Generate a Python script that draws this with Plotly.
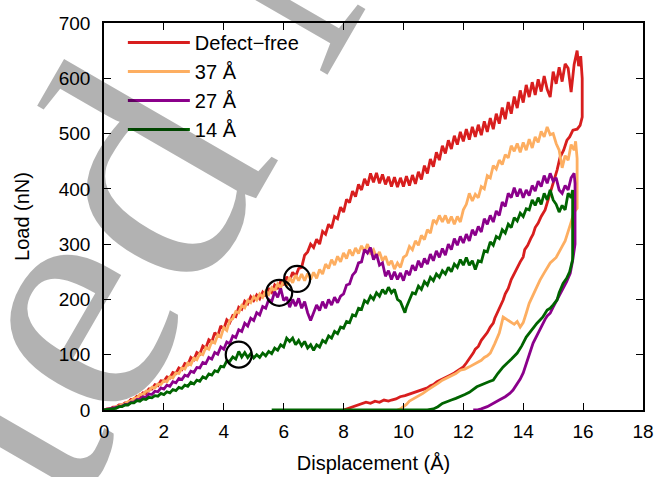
import plotly.graph_objects as go

# ---- data (Load in nN vs displacement in Angstrom) ----
df_x = [0.0, 0.1, 0.2, 0.3, 0.4, 0.5, 0.6, 0.7, 0.8, 0.9, 1.0, 1.1, 1.2, 1.3, 1.4, 1.5, 1.6, 1.7, 1.8, 1.9,
        2.0, 2.1, 2.2, 2.3, 2.4, 2.5, 2.6, 2.7, 2.8, 2.9, 3.0, 3.1, 3.2, 3.3, 3.4, 3.5, 3.6, 3.7, 3.8, 3.9,
        4.0, 4.1, 4.2, 4.3, 4.4, 4.5, 4.6, 4.7, 4.8, 4.9, 5.0, 5.1, 5.2, 5.3, 5.4, 5.5, 5.6, 5.7, 5.8, 5.9,
        6.0, 6.1, 6.2, 6.3, 6.4, 6.5, 6.6, 6.7, 6.8, 6.9, 7.0, 7.1, 7.2, 7.3, 7.4, 7.5, 7.6, 7.7, 7.8, 7.9,
        8.0, 8.1, 8.2, 8.3, 8.4, 8.5, 8.6, 8.7, 8.8, 8.9, 9.0, 9.1, 9.2, 9.3, 9.4, 9.5, 9.6, 9.7, 9.8, 9.9,
        10.0, 10.1, 10.2, 10.3, 10.4, 10.5, 10.6, 10.7, 10.8, 10.9, 11.0, 11.1, 11.2, 11.3, 11.4, 11.5,
        11.6, 11.7, 11.8, 11.9, 12.0, 12.1, 12.2, 12.3, 12.4, 12.5, 12.6, 12.7, 12.8, 12.9, 13.0, 13.1,
        13.2, 13.3, 13.4, 13.5, 13.6, 13.7, 13.8, 13.9, 14.0, 14.1, 14.2, 14.3, 14.4, 14.5, 14.6, 14.7,
        14.8, 14.9, 15.0, 15.1, 15.2, 15.3, 15.4, 15.5, 15.6, 15.7, 15.8, 15.85, 15.92, 15.97, 15.97,
        15.9, 15.8, 15.66, 15.55, 15.46, 15.35, 15.23, 15.13, 15.05, 14.95, 14.85, 14.73, 14.6, 14.5,
        14.4, 14.33, 14.25, 14.15, 14.05, 14.0, 13.9, 13.8, 13.7, 13.6, 13.5, 13.4, 13.33, 13.25, 13.15,
        13.05, 13.0, 12.9, 12.8, 12.7, 12.6, 12.5, 12.4, 12.33, 12.2, 12.1, 12.0, 11.9, 11.8, 11.7, 11.56,
        11.45, 11.3, 11.2, 11.12, 11.0, 10.9, 10.8, 10.7, 10.55, 10.4, 10.3, 10.2, 10.05, 9.89, 9.75, 9.6,
        9.5, 9.35, 9.2, 9.05, 8.9, 8.75, 8.55, 8.4, 8.3, 8.15, 8.0]
df_y = [0, 2, 2, 5, 5, 9, 9, 13, 13, 19, 19, 25, 24, 31, 30, 38, 38, 46, 44, 53,
        52, 60, 58, 68, 66, 76, 73, 84, 82, 95, 91, 104, 101, 116, 112, 127, 123, 140, 134, 152,
        146, 163, 158, 171, 169, 186, 182, 197, 192, 205, 198, 208, 201, 213, 206, 220, 213, 226, 219, 233,
        226, 241, 234, 249, 242, 256, 258, 280, 286, 300, 294, 309, 300, 323, 318, 336, 329, 350, 346, 367,
        358, 381, 375, 396, 386, 408, 398, 418, 406, 428, 412, 429, 410, 426, 408, 422, 404, 421, 403, 420,
        404, 423, 406, 425, 409, 431, 417, 442, 428, 454, 440, 466, 452, 478, 464, 488,
        472, 496, 480, 503, 486, 508, 489, 512, 494, 516, 497, 522, 503, 528, 508, 536,
        518, 547, 526, 557, 536, 567, 546, 578, 556, 588, 566, 593, 570, 598, 576, 604,
        580, 566, 612, 590, 620, 594, 626, 618, 575, 625, 650, 622, 640, 600, 530,
        515, 508, 506, 494, 488, 470, 457, 434, 420, 398, 384, 362, 350, 338,
        330, 318, 310, 298, 290, 277, 268, 258, 246, 236, 220, 210, 199, 190, 178,
        166, 157, 150, 140, 134, 126, 115, 110, 103, 92, 85, 78, 74, 70, 67, 63,
        60, 56, 54, 51, 46, 44, 40, 38, 36, 32, 31, 28, 26, 24, 20, 18,
        16, 18, 14, 16, 12, 14, 10, 7, 5, 2, 0]

d37_x = [0.0, 0.1, 0.2, 0.3, 0.4, 0.5, 0.6, 0.7, 0.8, 0.9, 1.0, 1.1, 1.2, 1.3, 1.4, 1.5, 1.6, 1.7, 1.8, 1.9,
         2.0, 2.1, 2.2, 2.3, 2.4, 2.5, 2.6, 2.7, 2.8, 2.9, 3.0, 3.1, 3.2, 3.3, 3.4, 3.5, 3.6, 3.7, 3.8, 3.9,
         4.0, 4.1, 4.2, 4.3, 4.4, 4.5, 4.6, 4.7, 4.8, 4.9, 5.0, 5.1, 5.2, 5.3, 5.4, 5.5, 5.6, 5.7, 5.8, 5.9,
         6.0, 6.1, 6.2, 6.3, 6.4, 6.5, 6.6, 6.7, 6.8, 6.9, 7.0, 7.1, 7.2, 7.3, 7.4, 7.5, 7.6, 7.7, 7.8, 7.9,
         8.0, 8.1, 8.2, 8.3, 8.4, 8.5, 8.6, 8.7, 8.8, 8.9, 9.0, 9.1, 9.2, 9.3, 9.4, 9.5, 9.6, 9.7, 9.8, 9.9,
         10.0, 10.1, 10.2, 10.3, 10.4, 10.5, 10.6, 10.7, 10.8, 10.9, 11.0, 11.1, 11.2, 11.3, 11.4, 11.5,
         11.6, 11.7, 11.8, 11.9, 12.0, 12.1, 12.2, 12.3, 12.4, 12.5, 12.6, 12.7, 12.8, 12.9, 13.0, 13.1,
         13.2, 13.3, 13.4, 13.5, 13.6, 13.7, 13.8, 13.9, 14.0, 14.1, 14.2, 14.3, 14.4, 14.5, 14.6, 14.7,
         14.8, 14.9, 15.0, 15.1, 15.2, 15.3, 15.4, 15.5, 15.6, 15.7, 15.75, 15.8, 15.8,
         15.7, 15.6, 15.5, 15.4, 15.3, 15.23, 15.1, 14.9, 14.8, 14.7, 14.56, 14.45, 14.35, 14.2, 14.1,
         14.0, 13.9, 13.8, 13.7, 13.56, 13.45, 13.33, 13.25, 13.2, 13.05, 12.9, 12.8, 12.7, 12.6, 12.45,
         12.3, 12.2, 12.05, 11.9, 11.75, 11.6, 11.45, 11.3, 11.15, 11.05, 10.9, 10.8, 10.65, 10.5, 10.35,
         10.2, 10.1, 10.0, 9.9, 9.8]
d37_y = [0, 1, 3, 3, 6, 7, 10, 11, 15, 16, 21, 22, 28, 28, 34, 34, 41, 40, 47, 46,
         53, 51, 60, 58, 67, 66, 76, 74, 85, 82, 94, 91, 102, 100, 113, 110, 124, 121, 136, 132,
         149, 144, 162, 165, 178, 176, 189, 185, 198, 194, 205, 199, 210, 204, 215, 209, 221, 215, 228, 221,
         234, 225, 240, 230, 244, 234, 246, 234, 247, 236, 249, 238, 254, 246, 264, 256, 272, 262, 278, 268,
         284, 274, 290, 279, 293, 283, 297, 287, 300, 284, 290, 276, 286, 270, 278, 262, 270, 255, 266, 258,
         276, 280, 296, 290, 306, 298, 316, 308, 326, 320, 344, 338, 352, 340, 352, 338,
         350, 336, 350, 340, 362, 372, 392, 378, 390, 384, 404, 400, 424, 420, 442, 436,
         452, 444, 462, 456, 478, 468, 482, 466, 484, 470, 490, 474, 494, 484, 504, 494,
         512, 498, 500, 482, 470, 438, 460, 452, 480, 470, 486, 455, 365,
         358, 340, 322, 306, 296, 289, 276, 266, 256, 248, 235, 222, 210, 193, 175,
         158, 150, 160, 155, 160, 165, 168, 150, 139, 120, 103, 98, 95, 90, 85,
         80, 78, 74, 72, 66, 62, 58, 54, 48, 45, 40, 36, 30, 25, 20,
         16, 10, 6, 2, 0]

d27_x = [0.0, 0.1, 0.2, 0.3, 0.4, 0.5, 0.6, 0.7, 0.8, 0.9, 1.0, 1.1, 1.2, 1.3, 1.4, 1.5, 1.6, 1.7, 1.8, 1.9,
         2.0, 2.1, 2.2, 2.3, 2.4, 2.5, 2.6, 2.7, 2.8, 2.9, 3.0, 3.1, 3.2, 3.3, 3.4, 3.5, 3.6, 3.7, 3.8, 3.9,
         4.0, 4.1, 4.2, 4.3, 4.4, 4.5, 4.6, 4.7, 4.8, 4.9, 5.0, 5.1, 5.2, 5.3, 5.4, 5.5, 5.6, 5.7, 5.8, 5.9,
         6.0, 6.1, 6.2, 6.3, 6.4, 6.5, 6.6, 6.7, 6.8, 6.9, 7.0, 7.1, 7.2, 7.3, 7.4, 7.5, 7.6, 7.7, 7.8, 7.9,
         8.0, 8.1, 8.2, 8.3, 8.4, 8.5, 8.6, 8.7, 8.8, 8.9, 9.0, 9.1, 9.2, 9.3, 9.4, 9.5, 9.6, 9.7, 9.8, 9.9,
         10.0, 10.1, 10.2, 10.3, 10.4, 10.5, 10.6, 10.7, 10.8, 10.9, 11.0, 11.1, 11.2, 11.3, 11.4, 11.5,
         11.6, 11.7, 11.8, 11.9, 12.0, 12.1, 12.2, 12.3, 12.4, 12.5, 12.6, 12.7, 12.8, 12.9, 13.0, 13.1,
         13.2, 13.3, 13.4, 13.5, 13.6, 13.7, 13.8, 13.9, 14.0, 14.1, 14.2, 14.3, 14.4, 14.5, 14.6, 14.7,
         14.8, 14.9, 15.0, 15.1, 15.2, 15.3, 15.4, 15.5, 15.6, 15.7, 15.73, 15.73,
         15.65, 15.57, 15.45, 15.35, 15.23, 15.1, 15.0, 14.9, 14.8, 14.73, 14.6, 14.5, 14.4, 14.33, 14.25,
         14.15, 14.05, 14.0, 13.9, 13.8, 13.66, 13.55, 13.4, 13.2, 13.0, 12.8, 12.6, 12.45, 12.33]
d27_y = [0, 1, 2, 3, 4, 6, 7, 10, 10, 14, 14, 19, 19, 24, 23, 29, 28, 34, 33, 40,
         38, 45, 43, 51, 49, 57, 55, 63, 61, 70, 68, 77, 76, 86, 84, 95, 92, 104, 101, 114,
         110, 123, 120, 134, 131, 145, 142, 157, 152, 166, 162, 176, 172, 187, 184, 200, 196, 214, 204, 220,
         198, 204, 186, 200, 188, 202, 184, 196, 176, 162, 178, 190, 180, 196, 184, 200, 190, 204, 194, 206,
         210, 226, 228, 244, 250, 266, 268, 290, 284, 294, 272, 282, 262, 266, 242, 252, 236, 250, 236, 248,
         234, 252, 244, 262, 252, 270, 258, 274, 264, 282, 270, 288, 276, 292, 280, 300,
         290, 310, 298, 314, 302, 318, 306, 326, 316, 332, 322, 346, 336, 352, 340, 360,
         352, 376, 368, 392, 384, 402, 386, 400, 384, 398, 388, 406, 396, 414, 404, 424,
         410, 428, 414, 420, 398, 392, 406, 398, 420, 428, 410, 300,
         270, 247, 232, 222, 211, 196, 186, 175, 170, 164, 150, 140, 128, 121, 108,
         92, 78, 67, 56, 48, 36, 30, 24, 18, 12, 6, 2, 0, 0]

d14_x = [0.0, 0.1, 0.2, 0.3, 0.4, 0.5, 0.6, 0.7, 0.8, 0.9, 1.0, 1.1, 1.2, 1.3, 1.4, 1.5, 1.6, 1.7, 1.8, 1.9,
         2.0, 2.1, 2.2, 2.3, 2.4, 2.5, 2.6, 2.7, 2.8, 2.9, 3.0, 3.1, 3.2, 3.3, 3.4, 3.5, 3.6, 3.7, 3.8, 3.9,
         4.0, 4.1, 4.2, 4.3, 4.4, 4.5, 4.6, 4.7, 4.8, 4.9, 5.0, 5.1, 5.2, 5.3, 5.4, 5.5, 5.6, 5.7, 5.8, 5.9,
         6.0, 6.1, 6.2, 6.3, 6.4, 6.5, 6.6, 6.7, 6.8, 6.9, 7.0, 7.1, 7.2, 7.3, 7.4, 7.5, 7.6, 7.7, 7.8, 7.9,
         8.0, 8.1, 8.2, 8.3, 8.4, 8.5, 8.6, 8.7, 8.8, 8.9, 9.0, 9.1, 9.2, 9.3, 9.4, 9.5, 9.6, 9.7, 9.8, 9.9,
         10.0, 10.05, 10.1, 10.2, 10.3, 10.4, 10.5, 10.6, 10.7, 10.8, 10.9, 11.0, 11.1, 11.2, 11.3, 11.4,
         11.5, 11.6, 11.7, 11.8, 11.9, 12.0, 12.1, 12.2, 12.3, 12.4, 12.5, 12.6, 12.7, 12.8, 12.9, 13.0,
         13.1, 13.2, 13.3, 13.4, 13.5, 13.6, 13.7, 13.8, 13.9, 14.0, 14.1, 14.2, 14.3, 14.4, 14.5, 14.6,
         14.7, 14.8, 14.9, 15.0, 15.1, 15.2, 15.3, 15.4, 15.5, 15.6, 15.65, 15.65,
         15.55, 15.45, 15.33, 15.2, 15.13, 15.0, 14.9, 14.8, 14.65, 14.46, 14.3, 14.1, 13.95, 13.8, 13.6,
         13.45, 13.33, 13.15, 13.0, 12.85, 12.7, 12.55, 12.45, 12.3, 12.2, 12.05, 11.9, 11.75, 11.6,
         11.45, 11.3, 11.15, 11.0, 10.8, 5.6]
d14_y = [0, 1, 1, 3, 3, 6, 6, 9, 9, 13, 13, 17, 16, 20, 19, 23, 22, 26, 25, 30,
         28, 33, 31, 37, 35, 41, 39, 45, 43, 50, 47, 54, 52, 60, 57, 65, 63, 71, 69, 79,
         78, 89, 88, 96, 92, 106, 96, 104, 95, 102, 94, 100, 95, 103, 98, 106, 102, 112, 108, 118,
         114, 130, 124, 130, 118, 126, 116, 124, 112, 118, 108, 118, 114, 126, 122, 134, 130, 142, 138, 150,
         148, 160, 158, 172, 170, 184, 182, 198, 194, 206, 200, 212, 206, 218, 210, 222, 212, 218, 200, 196,
         182, 176, 186, 200, 212, 210, 224, 218, 232, 226, 240, 234, 246, 240, 252, 246,
         258, 250, 264, 258, 272, 262, 276, 262, 270, 254, 270, 268, 288, 286, 304, 298,
         314, 310, 326, 320, 336, 330, 348, 342, 356, 350, 364, 362, 380, 370, 384, 372,
         392, 380, 398, 380, 372, 358, 370, 362, 392, 384, 398, 272,
         250, 238, 229, 212, 199, 190, 184, 181, 168, 157, 145, 132, 116, 103, 92,
         84, 78, 66, 54, 51, 48, 44, 42, 36, 32, 28, 24, 21, 18,
         15, 12, 6, 2, 0, 0]

marked_x = [4.5, 5.85, 6.45]
marked_y = [100, 212, 237]

series_names = ["Defect\u2212free", "37 \u00c5", "27 \u00c5", "14 \u00c5"]
series_x = [df_x, d37_x, d27_x, d14_x]
series_y = [df_y, d37_y, d27_y, d14_y]
series_colors = ["#d81e1e", "#fdae61", "#8b008b", "#006400"]

x_ticks = [0, 2, 4, 6, 8, 10, 12, 14, 16, 18]
y_ticks = [0, 100, 200, 300, 400, 500, 600, 700]

FONT = "Liberation Sans, Arial, Helvetica, sans-serif"

fig = go.Figure()
for name, xs, ys, col in zip(series_names, series_x, series_y, series_colors):
    fig.add_trace(go.Scatter(x=xs, y=ys, mode="lines", name=name,
                             line=dict(color=col, width=2.8)))

fig.add_trace(go.Scatter(x=marked_x, y=marked_y, mode="markers", showlegend=False,
                         marker=dict(symbol="circle-open", size=26, color="black",
                                     line=dict(width=2.2, color="black"))))

axis_common = dict(showline=True, linecolor="black", linewidth=1.5, mirror="ticks",
                   ticks="inside", ticklen=7, tickwidth=1, tickcolor="black",
                   showgrid=False, zeroline=False,
                   tickfont=dict(family=FONT, size=19, color="black"))

fig.update_xaxes(range=[0, 18], tickvals=x_ticks, ticklabelstandoff=3, **axis_common,
                 title=dict(text="Displacement (\u00c5)", font=dict(family=FONT, size=20, color="black"),
                            standoff=15))
fig.update_yaxes(range=[0, 700], tickvals=y_ticks, ticklabelstandoff=8, **axis_common,
                 title=dict(text="Load (nN)", font=dict(family=FONT, size=20, color="black"),
                            standoff=24))

# faint "Accepted Manuscript" watermark
fig.add_annotation(text="Accepted Manuscript", xref="paper", yref="paper", x=0.306, y=1.194,
                   xanchor="center", yanchor="middle", showarrow=False, textangle=-60,
                   font=dict(family="Liberation Serif, Times New Roman, serif", size=340,
                             color="rgba(0,0,0,0.3)"))

fig.update_layout(
    width=661, height=477,
    margin=dict(l=104, r=18, t=23, b=67, autoexpand=False),
    paper_bgcolor="white", plot_bgcolor="white",
    font=dict(family=FONT, color="black"),
    legend=dict(x=0.035, y=1.0, xanchor="left", yanchor="top", bgcolor="rgba(0,0,0,0)",
                font=dict(family=FONT, size=20, color="black"), itemwidth=62,
                tracegroupgap=0),
)

fig.write_html("out.html", config={"displayModeBar": False},
               post_script="document.body.style.margin='0';")
